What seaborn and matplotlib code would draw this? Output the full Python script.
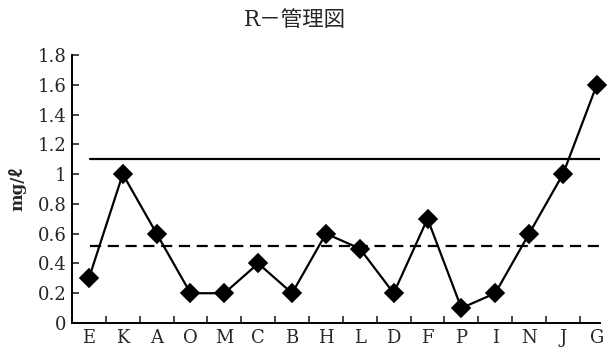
import matplotlib
matplotlib.use("Agg")
import matplotlib.pyplot as plt
import seaborn as sns
import numpy as np

# R control chart data
categories = ["E", "K", "A", "O", "M", "C", "B", "H", "L", "D", "F", "P", "I", "N", "J", "G"]
r_values = [0.3, 1.0, 0.6, 0.2, 0.2, 0.4, 0.2, 0.6, 0.5, 0.2, 0.7, 0.1, 0.2, 0.6, 1.0, 1.6]
ucl = 1.1
r_bar = 0.52
y_ticks = [0, 0.2, 0.4, 0.6, 0.8, 1, 1.2, 1.4, 1.6, 1.8]
y_tick_labels = ["0", "0.2", "0.4", "0.6", "0.8", "1", "1.2", "1.4", "1.6", "1.8"]

sns.set_style("ticks")
plt.rcParams['font.family'] = ['DejaVu Serif', 'Noto Sans CJK JP']

fig = plt.figure(figsize=(6.1, 3.49), dpi=100)
ax = fig.add_axes([0.118, 0.0745, 0.866, 0.768])

sns.pointplot(x=categories, y=r_values, order=categories, color="black",
              markers="D", linestyles="-", ax=ax,
              markersize=9, linewidth=1.6)
for coll in ax.collections + ax.lines:
    coll.set_clip_on(False)

ax.axhline(ucl, color="black", lw=1.6, xmin=0.035, xmax=1.0)
ax.axhline(r_bar, color="black", lw=1.6, ls=(0, (5, 3)), xmin=0.035, xmax=1.0)

ax.set_xlim(-0.5, 15.1)
ax.set_ylim(0, 1.8)
ax.set_yticks(y_ticks)
ax.set_yticklabels(y_tick_labels)
ax.set_xticks(range(len(categories)))
ax.set_xticklabels(categories)
ax.set_xticks(np.arange(0.5, len(categories) - 1, 1.0), minor=True)

ax.tick_params(axis="x", which="major", length=0, labelsize=13, pad=4)
ax.tick_params(axis="x", which="minor", direction="in", length=5, width=1.2)
ax.tick_params(axis="y", direction="in", length=5, width=1.2, labelsize=13, pad=4)

for side in ["top", "right"]:
    ax.spines[side].set_visible(False)
for side in ["left", "bottom"]:
    ax.spines[side].set_linewidth(1.4)
    ax.spines[side].set_color("black")

ax.set_xlabel("")
ax.set_ylabel("mg/ℓ", fontsize=12, fontweight="bold", labelpad=8)

fig.text(0.484, 0.943, "R－管理図", ha="center", va="center", fontsize=15.5,
         family=['DejaVu Serif', 'Noto Sans CJK JP'])

fig.savefig("out.png", dpi=100)
